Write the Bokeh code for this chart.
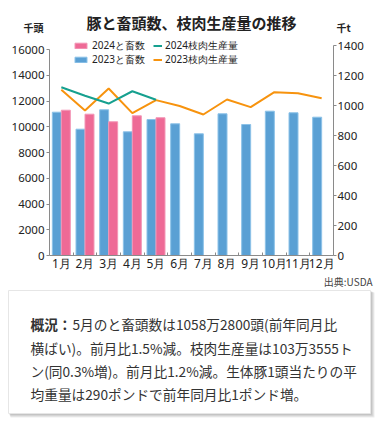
import numpy as np
from bokeh.plotting import figure
from bokeh.models import (Range1d, LinearAxis, FixedTicker, Legend, LegendItem,
                          ColumnDataSource)
from bokeh.layouts import column
from bokeh.embed import file_html
from bokeh.resources import INLINE
from bokeh.core.properties import value

# ---------------- data ----------------
months = ["1月", "2月", "3月", "4月", "5月", "6月", "7月", "8月", "9月", "10月", "11月", "12月"]
head_2024 = [11285, 10975, 10385, 10850, 10700]
head_2023 = [11130, 9810, 11317, 9608, 10560, 10229, 9452, 11006, 10175, 11208, 11084, 10742]
beef_2024 = [1122, 1065, 1013, 1095, 1038]
beef_2023 = [1105, 967, 1113, 949, 1036, 997, 940, 1040, 989, 1089, 1082, 1049]
left_ticks = [0, 2000, 4000, 6000, 8000, 10000, 12000, 14000, 16000]
right_ticks = [0, 200, 400, 600, 800, 1000, 1200, 1400]
series_names = ["2024と畜数", "2023と畜数", "2024枝肉生産量", "2023枝肉生産量"]
title_text = "豚と畜頭数、枝肉生産量の推移"
left_unit = "千頭"
right_unit = "千t"
source_text = "出典:USDA"
note_head = "概況："
note_lines = [
    "5月のと畜頭数は1058万2800頭(前年同月比",
    "横ばい)。前月比1.5%減。枝肉生産量は103万3555ト",
    "ン(同0.3%増)。前月比1.2%減。生体豚1頭当たりの平",
    "均重量は290ポンドで前年同月比1ポンド増。",
]

FONT = "Noto Sans CJK JP"
TICKFONT = "Noto Sans"
PINK = "#EE6A96"
BLUE = "#5AA0D4"
TEAL = "#16A08F"
ORANGE = "#F7930E"
AXIS = "#8a8a8a"
TXT = "#222222"
W = 382


def bare(fig):
    fig.xgrid.visible = False
    fig.ygrid.visible = False
    fig.outline_line_color = None
    fig.background_fill_color = "white"
    fig.border_fill_color = "white"
    fig.frame_align = False


# ---------------- header (title + units) ----------------
HH = 34
h = figure(width=W, height=HH, x_range=Range1d(0, W), y_range=Range1d(HH, 0),
           min_border=0, x_axis_type=None, y_axis_type=None,
           toolbar_location=None, output_backend="svg")
bare(h)
h.text(x=[191], y=[22], text=[title_text], text_font=value(FONT), text_font_size="15px",
       text_font_style="bold", text_color=TXT, text_align="center", text_baseline="middle")
h.text(x=[33, 343], y=[26.5, 26.5], text=[left_unit, right_unit], text_font=value(FONT),
       text_font_size="10px", text_font_style="bold", text_color=TXT,
       text_align="center", text_baseline="middle")

# ---------------- chart ----------------
idx = np.arange(1, len(months) + 1)
idx24 = idx[:len(head_2024)]

FRAME_H = 221
BOTTOM = 20
p = figure(width=W, height=FRAME_H + BOTTOM, x_range=Range1d(0.5, 12.5),
           y_range=Range1d(0, FRAME_H / 12.875 * 1000),
           min_border_left=49, min_border_right=49, min_border_top=0, min_border_bottom=BOTTOM,
           toolbar_location=None, output_backend="svg")
p.extra_y_ranges = {"beef": Range1d(0, FRAME_H / 0.15)}
bare(p)

blue_r = p.vbar(x=idx - 0.19, top=head_2023, width=0.38, fill_color=BLUE,
                line_color="#8CC2E8", line_width=1)
pink_r = p.vbar(x=idx24 + 0.19, top=head_2024, width=0.38, fill_color=PINK,
                line_color="#F396B6", line_width=1)
orange_r = p.line(x=idx, y=beef_2023, y_range_name="beef", line_color=ORANGE, line_width=2)
teal_r = p.line(x=idx24, y=beef_2024, y_range_name="beef", line_color=TEAL, line_width=2)

ya = p.yaxis[0]
ya.ticker = FixedTicker(ticks=left_ticks)
ya.bounds = (0, 16000)
ra = LinearAxis(y_range_name="beef", ticker=FixedTicker(ticks=right_ticks), bounds=(0, 1400))
p.add_layout(ra, "right")
for ax in (ya, ra):
    ax.axis_line_color = AXIS
    ax.major_tick_line_color = AXIS
    ax.major_tick_in = 0
    ax.major_tick_out = 3
    ax.minor_tick_line_color = None
    ax.major_label_text_font = TICKFONT
    ax.major_label_text_font_size = "11.5px"
    ax.major_label_text_color = TXT
ya.major_label_standoff = 2
ra.major_label_standoff = 1

xa = p.xaxis[0]
xa.ticker = FixedTicker(ticks=list(idx), minor_ticks=list(idx[:-1] + 0.5))
xa.major_label_overrides = {int(i): m for i, m in zip(idx, months)}
xa.axis_line_color = AXIS
xa.major_tick_line_color = None
xa.minor_tick_line_color = AXIS
xa.minor_tick_in = 3
xa.minor_tick_out = 0
xa.major_label_standoff = -7
xa.major_label_text_font = TICKFONT
xa.major_label_text_font_size = "12px"
xa.major_label_text_color = TXT

# four single-item legends (two columns x two rows)
leg_specs = [
    (series_names[0], pink_r, 15, 24, 202),
    (series_names[1], blue_r, 15, 24, 188),
    (series_names[2], teal_r, 9, 104, 202),
    (series_names[3], orange_r, 9, 104, 188),
]
for name, rend, gw, lx, ly in leg_specs:
    lg = Legend(items=[LegendItem(label=name, renderers=[rend])], location=(lx, ly))
    lg.glyph_width = gw
    lg.glyph_height = 7
    lg.label_height = 12
    lg.label_text_font = TICKFONT
    lg.label_text_font_size = "10px"
    lg.label_text_color = TXT
    lg.label_standoff = 4 if gw == 15 else 3
    lg.spacing = 0
    lg.padding = 0
    lg.margin = 0
    lg.border_line_color = None
    lg.background_fill_alpha = 0
    p.add_layout(lg)

# ---------------- note card ----------------
CH = 429 - HH - FRAME_H - BOTTOM
c = figure(width=W, height=CH, x_range=Range1d(0, W), y_range=Range1d(CH, 0),
           min_border=0, x_axis_type=None, y_axis_type=None,
           toolbar_location=None, output_backend="svg")
bare(c)

c.text(x=[372], y=[6], text=[source_text], text_font=value(FONT), text_font_size="10px",
       text_color="#444444", text_align="right", text_baseline="middle")

for k in (4, 3, 2, 1):
    c.quad(left=8 + k * 0.5, right=370 + k, top=15 + k * 0.5, bottom=138 + k,
           fill_color="#000000", fill_alpha=0.07, line_color=None)
c.quad(left=8, right=370, top=15, bottom=138, fill_color="white",
       line_color="#e6e6e6", line_width=1)

line_y = [48, 72, 95, 118]
c.text(x=[30], y=[line_y[0]], text=[note_head], text_font=value(FONT),
       text_font_size="13.7px", text_font_style="bold", text_color="#333333",
       text_baseline="middle")
src = ColumnDataSource(dict(x=[72, 30, 30, 30], y=line_y, t=note_lines))
c.text(x="x", y="y", text="t", source=src, text_font=value(FONT),
       text_font_size="13.7px", text_color="#333333", text_baseline="middle")

layout = column(h, p, c, spacing=0)
open("out.html", "w").write(file_html(layout, INLINE))
